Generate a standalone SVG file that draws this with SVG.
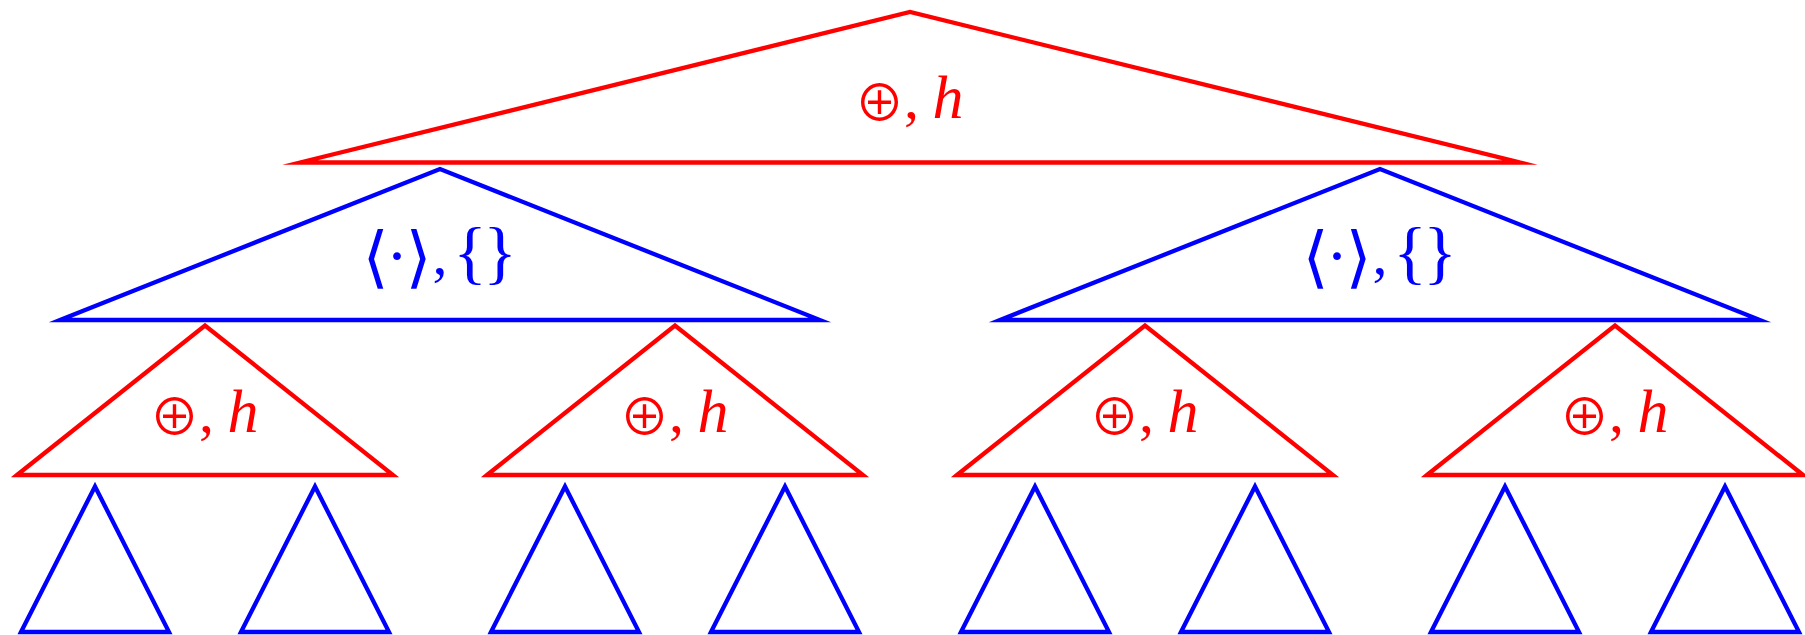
<svg xmlns="http://www.w3.org/2000/svg" width="1805" height="635" viewBox="0 0 1805 635">
<style>
  .tri { fill: none; stroke-width: 4.3; stroke-linejoin: miter; stroke-miterlimit: 30; }
  .red { stroke: #ff0000; }
  .blue { stroke: #0000ff; }
  .lr { fill: #ff0000; }
  .lb { fill: #0000ff; }
  .lbl { font-family: "Liberation Serif", serif; font-size: 60px; text-anchor: middle; }
  .op { font-family: "Noto Sans CJK JP", "DejaVu Sans", sans-serif; font-size: 50px; }
  .dot { font-size: 66px; }
  .it { font-size: 62px; font-style: italic; }
  .br { font-family: "DejaVu Serif", serif; font-size: 67px; }
  .brc { font-size: 70px; }
</style>

<g id="root">
  <polygon class="tri red" points="300,162.5 910,12 1520,162.5"/>
  <text class="lbl lr"><tspan class="op" x="879.5" y="121">⊕</tspan><tspan x="911.5" y="118">,</tspan><tspan class="it" x="948" y="118">h</tspan></text>
</g>

<g id="mid-left">
  <polygon class="tri blue" points="60,320 440,169 820,320"/>
  <text class="lbl lb"><tspan class="br" x="375.5" y="280">⟨</tspan><tspan class="dot" x="397" y="278">·</tspan><tspan class="br" x="418.5" y="280">⟩</tspan><tspan x="440" y="274">,</tspan><tspan class="brc" x="470" y="276">{</tspan><tspan class="brc" x="500" y="276">}</tspan></text>
</g>

<g id="mid-right">
  <polygon class="tri blue" points="1000,320 1380,169 1760,320"/>
  <text class="lbl lb"><tspan class="br" x="1315.5" y="280">⟨</tspan><tspan class="dot" x="1337" y="278">·</tspan><tspan class="br" x="1358.5" y="280">⟩</tspan><tspan x="1380" y="274">,</tspan><tspan class="brc" x="1410" y="276">{</tspan><tspan class="brc" x="1440" y="276">}</tspan></text>
</g>

<g id="inner-1">
  <polygon class="tri red" points="17,475 205,325.5 393,475"/>
  <text class="lbl lr"><tspan class="op" x="174.5" y="435">⊕</tspan><tspan x="206.5" y="432">,</tspan><tspan class="it" x="243" y="432">h</tspan></text>
</g>
<g id="inner-2">
  <polygon class="tri red" points="487,475 675,325.5 863,475"/>
  <text class="lbl lr"><tspan class="op" x="644.5" y="435">⊕</tspan><tspan x="676.5" y="432">,</tspan><tspan class="it" x="713" y="432">h</tspan></text>
</g>
<g id="inner-3">
  <polygon class="tri red" points="957,475 1145,325.5 1333,475"/>
  <text class="lbl lr"><tspan class="op" x="1114.5" y="435">⊕</tspan><tspan x="1146.5" y="432">,</tspan><tspan class="it" x="1183" y="432">h</tspan></text>
</g>
<g id="inner-4">
  <polygon class="tri red" points="1427,475 1615,325.5 1803,475"/>
  <text class="lbl lr"><tspan class="op" x="1584.5" y="435">⊕</tspan><tspan x="1616.5" y="432">,</tspan><tspan class="it" x="1653" y="432">h</tspan></text>
</g>

<g id="leaf-1"><polygon class="tri blue" points="21,632 95,486.5 169,632"/></g>
<g id="leaf-2"><polygon class="tri blue" points="241,632 315,486.5 389,632"/></g>
<g id="leaf-3"><polygon class="tri blue" points="491,632 565,486.5 639,632"/></g>
<g id="leaf-4"><polygon class="tri blue" points="711,632 785,486.5 859,632"/></g>
<g id="leaf-5"><polygon class="tri blue" points="961,632 1035,486.5 1109,632"/></g>
<g id="leaf-6"><polygon class="tri blue" points="1181,632 1255,486.5 1329,632"/></g>
<g id="leaf-7"><polygon class="tri blue" points="1431,632 1505,486.5 1579,632"/></g>
<g id="leaf-8"><polygon class="tri blue" points="1651,632 1725,486.5 1799,632"/></g>
</svg>
